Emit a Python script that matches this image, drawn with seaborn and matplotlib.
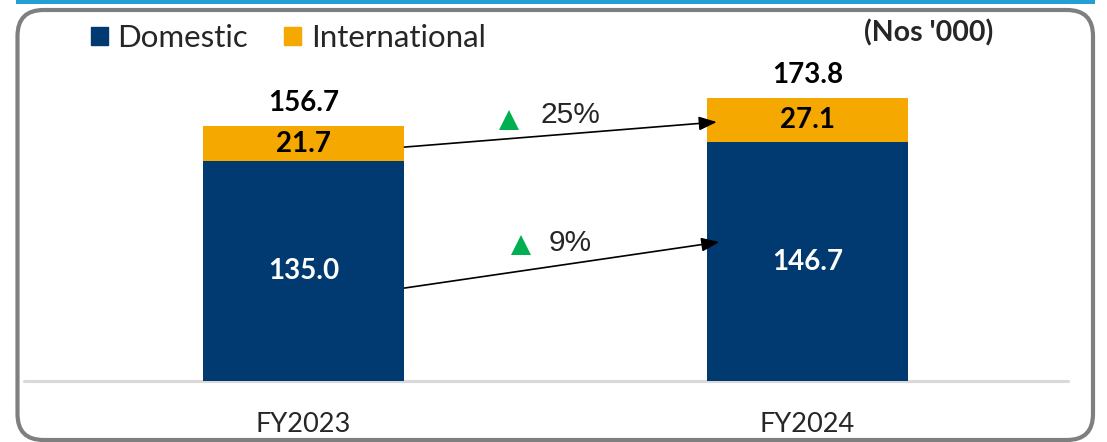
import matplotlib
matplotlib.use("Agg")
import matplotlib.pyplot as plt
import matplotlib.patches as mpatches
import matplotlib.transforms as mtransforms
import seaborn as sns
import pandas as pd

# ---- data ----
years = ["FY2023", "FY2024"]
domestic = [135.0, 146.7]
international = [21.7, 27.1]
totals = [156.7, 173.8]
growth_labels = ["25%", "9%"]  # international, domestic

NAVY = "#003A70"
ORANGE = "#F5A800"
GREEN = "#00B050"

sns.set_theme(style="white")
plt.rcParams["font.family"] = ["Lato", "DejaVu Sans"]

W, H = 1107, 442
fig = plt.figure(figsize=(W / 100, H / 100), dpi=100)
ax = fig.add_axes([24 / W, 1 - 381 / H, (1068 - 24) / W, (381 - 60) / H])

df = pd.DataFrame({"year": years, "domestic": domestic,
                   "international": international, "total": totals})

sns.barplot(data=df, x="year", y="total", color=ORANGE, width=0.4,
            saturation=1, ax=ax, edgecolor="none")
sns.barplot(data=df, x="year", y="domestic", color=NAVY, width=0.4,
            saturation=1, ax=ax, edgecolor="none")

ax.set_xlim(-0.555, 1.517)
ax.set_ylim(0, 197.2)
ax.set_xlabel("")
ax.set_ylabel("")
ax.set_yticks([])
for s in ax.spines.values():
    s.set_visible(False)
ax.axhline(0, color="#d9d9d9", lw=2.2, zorder=0, clip_on=False)
ax.tick_params(axis="x", length=0, pad=22, labelsize=19.5)
for t in ax.get_xticklabels():
    t.set_family(["Lato", "DejaVu Sans"])

num_font = ["Lato", "DejaVu Sans"]
for i in range(len(years)):
    ax.text(i, domestic[i] / 2, f"{domestic[i]:.1f}", ha="center", va="center",
            color="white", fontsize=20, fontweight="bold", family=num_font)
    ax.text(i, domestic[i] + international[i] / 2, f"{international[i]:.1f}",
            ha="center", va="center", color="black", fontsize=20,
            fontweight="bold", family=num_font)
    ax.text(i, totals[i] + 14, f"{totals[i]:.1f}", ha="center", va="center",
            color="black", fontsize=20, fontweight="bold", family=num_font)

# growth arrows
arrows = [((0.2, 143.7), (0.82, 159.1)), ((0.2, 57.1), (0.825, 85.4))]
for (s, e) in arrows:
    ax.annotate("", xy=e, xytext=s,
                arrowprops=dict(arrowstyle="-|>,head_length=0.9,head_width=0.35",
                                color="black", lw=1.2, shrinkA=0, shrinkB=0))
ax.plot([0.408, 0.431], [160.3, 83.5], linestyle="none", marker="^",
        markersize=15, color=GREEN, markeredgewidth=0)
arial = ["Liberation Sans", "DejaVu Sans"]
ax.text(0.53, 163.4, growth_labels[0], ha="center", va="center", fontsize=21.5,
        family=arial)
ax.text(0.529, 84.8, growth_labels[1], ha="center", va="center", fontsize=21.5,
        family=arial)

# legend
handles = [mpatches.Patch(color=NAVY, label="Domestic"),
           mpatches.Patch(color=ORANGE, label="International")]
fig.legend(handles=handles, loc="center left", bbox_to_anchor=(91 / W, 1 - 38 / H),
           ncol=2, frameon=False, fontsize=22.5, handlelength=0.55,
           handleheight=0.55, handletextpad=0.3, columnspacing=1.15,
           borderaxespad=0, borderpad=0)

fig.text(993 / W, 1 - 33 / H, "(Nos '000)", ha="right", va="center",
         fontsize=20.5, fontweight="bold")

# frame & top line
pix = mtransforms.Affine2D().scale(1 / W, 1 / H) + fig.transFigure
fig.add_artist(mpatches.Rectangle((16, H - 3.5), 1079, 3.5, transform=pix,
                                  color="#22A0D6", lw=0))
fig.add_artist(mpatches.FancyBboxPatch((17.5, 2), 1075.5, H - 12,
                                       boxstyle="round,pad=0,rounding_size=26",
                                       transform=pix, facecolor="none",
                                       edgecolor="#7f7f7f", lw=3))

fig.savefig("out.png", dpi=100)
